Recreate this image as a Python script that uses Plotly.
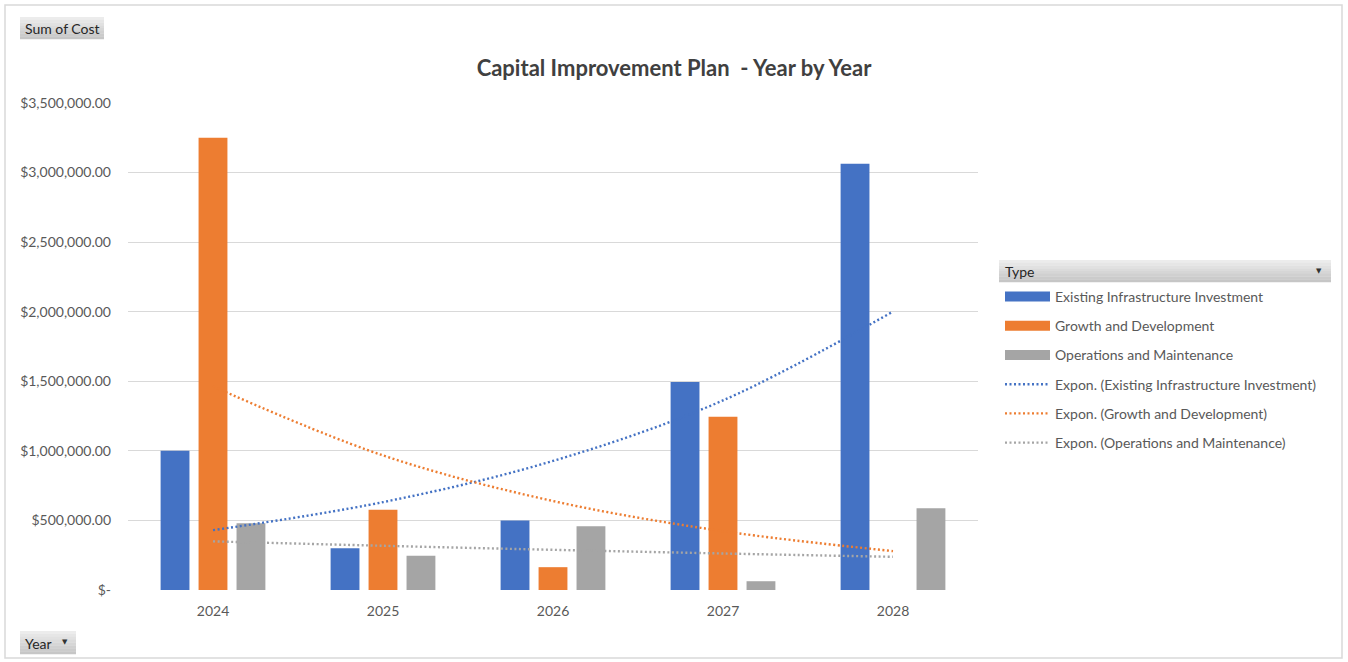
import numpy as np
import plotly.graph_objects as go

# ---------------- data ----------------
years = [2024, 2025, 2026, 2027, 2028]
year_labels = ["2024", "2025", "2026", "2027", "2028"]
existing_infra = [1000000, 300000, 500000, 1495000, 3063000]
growth_dev = [3250000, 577000, 164000, 1245000, None]
ops_maint = [480000, 246000, 459000, 63000, 588000]
series_names = ["Existing Infrastructure Investment", "Growth and Development",
                "Operations and Maintenance"]
series_colors = ["#4472C4", "#ED7D31", "#A5A5A5"]
y_tick_vals = [0, 500000, 1000000, 1500000, 2000000, 2500000, 3000000, 3500000]
y_tick_text = ["$-", "$500,000.00", "$1,000,000.00", "$1,500,000.00", "$2,000,000.00",
               "$2,500,000.00", "$3,000,000.00", "$3,500,000.00"]
title_text = "Capital Improvement Plan  - Year by Year"

series_values = [existing_infra, growth_dev, ops_maint]

# ---------------- geometry helpers (pixels -> paper) ----------------
W, H = 1348, 662
ML, MR, MT, MB = 128, 370, 103, 72
PW, PH = W - ML - MR, H - MT - MB


def px(x):
    return (x - ML) / PW


def py(y):
    return (H - MB - y) / PH


def expon_fit(xs, ys):
    pts = [(x, y) for x, y in zip(xs, ys) if y]
    xa = np.array([p[0] for p in pts], dtype=float) - xs[0] + 1
    la = np.log(np.array([p[1] for p in pts], dtype=float))
    b, a = np.polyfit(xa, la, 1)
    return [float(np.exp(a + b * (x - xs[0] + 1))) for x in xs]


FONT = "Lato"
TXT = "#595959"

fig = go.Figure()

for name, vals, col in zip(series_names, series_values, series_colors):
    fig.add_trace(go.Bar(x=years, y=vals, name=name, marker=dict(color=col, line=dict(width=0)),
                         showlegend=False))

# legend entries for bars (wide swatches)
for i, (name, col) in enumerate(zip(series_names, series_colors)):
    fig.add_trace(go.Scatter(x=[None], y=[None], mode="lines", name=name,
                             line=dict(color=col, width=10), legendgroup=f"b{i}"))

# exponential trendlines
for i, (name, vals, col) in enumerate(zip(series_names, series_values, series_colors)):
    fig.add_trace(go.Scatter(x=years, y=expon_fit(years, vals), mode="lines",
                             name=f"Expon. ({name})", legendgroup=f"t{i}",
                             line=dict(color=col, width=2.4, dash="2px,2.5px", shape="spline"),
                             hoverinfo="skip"))

shapes = []
annotations = []

# outer border
shapes.append(dict(type="rect", xref="paper", yref="paper", x0=px(5), x1=px(1342), y0=py(5), y1=py(658),
                   line=dict(color="#d9d9d9", width=1.5), fillcolor="rgba(0,0,0,0)", layer="below"))


def gradient_button(x0, x1, y0, y1, top="#ececec", bottom="#c6c6c6", steps=8):
    h = (y1 - y0) / steps
    c0 = np.array([int(top[i:i + 2], 16) for i in (1, 3, 5)])
    c1 = np.array([int(bottom[i:i + 2], 16) for i in (1, 3, 5)])
    for k in range(steps):
        t = k / (steps - 1)
        c = (c0 * (1 - t) + c1 * t).astype(int)
        shapes.append(dict(type="rect", xref="paper", yref="paper",
                           x0=px(x0), x1=px(x1), y0=py(y0 + k * h), y1=py(y0 + (k + 1) * h + 0.3),
                           line=dict(width=0), fillcolor="rgb(%d,%d,%d)" % tuple(c), layer="above"))


# "Sum of Cost" button
gradient_button(20, 104, 17, 39)
annotations.append(dict(text="Sum of Cost", xref="paper", yref="paper", x=px(23), y=py(28),
                        xanchor="left", yanchor="middle", showarrow=False,
                        font=dict(family=FONT, size=14, color="#262626")))
# "Year" button
gradient_button(20, 76, 631, 654)
annotations.append(dict(text="Year", xref="paper", yref="paper", x=px(23), y=py(643),
                        xanchor="left", yanchor="middle", showarrow=False,
                        font=dict(family=FONT, size=14, color="#262626")))
annotations.append(dict(text="▼", xref="paper", yref="paper", x=px(65), y=py(642),
                        xanchor="center", yanchor="middle", showarrow=False,
                        font=dict(family="DejaVu Sans", size=7, color="#333333")))
# legend header "Type"
gradient_button(999, 1331, 260, 282)
annotations.append(dict(text="Type", xref="paper", yref="paper", x=px(1003), y=py(271),
                        xanchor="left", yanchor="middle", showarrow=False,
                        font=dict(family=FONT, size=14, color="#262626")))
annotations.append(dict(text="▼", xref="paper", yref="paper", x=px(1319), y=py(271),
                        xanchor="center", yanchor="middle", showarrow=False,
                        font=dict(family="DejaVu Sans", size=7, color="#333333")))

fig.update_layout(
    width=W, height=H,
    margin=dict(l=ML, r=MR, t=MT, b=MB, autoexpand=False),
    paper_bgcolor="white", plot_bgcolor="white",
    barmode="group", bargap=0.33, bargroupgap=0.24,
    title=dict(text=title_text, x=0.5, xref="container", xanchor="center",
               y=1 - 68 / H, yref="container", yanchor="middle",
               font=dict(family=FONT, size=22, color="#404040", weight="bold")),
    font=dict(family=FONT, size=14, color=TXT),
    xaxis=dict(range=[2023.5, 2028.5], tickvals=years, ticktext=year_labels, showgrid=False,
               zeroline=False, showline=False, ticks="", fixedrange=True, ticklabelstandoff=11,
               tickfont=dict(family=FONT, size=14, color=TXT)),
    yaxis=dict(range=[0, 3500000], tickvals=y_tick_vals, ticktext=y_tick_text, showgrid=True,
               gridcolor="#d9d9d9", gridwidth=1, zeroline=False, showline=False, ticks="",
               ticklabelstandoff=16, fixedrange=True, tickfont=dict(family=FONT, size=14, color=TXT)),
    legend=dict(x=px(1000), y=py(281), xanchor="left", yanchor="top", traceorder="grouped",
                tracegroupgap=8, itemwidth=45, bgcolor="rgba(0,0,0,0)",
                font=dict(family=FONT, size=14, color=TXT)),
    shapes=shapes, annotations=annotations,
    hovermode=False,
)

fig.write_html("out.html", config={"displayModeBar": False, "staticPlot": False},
               post_script="document.body.style.margin='0px';document.body.style.overflow='hidden';")
